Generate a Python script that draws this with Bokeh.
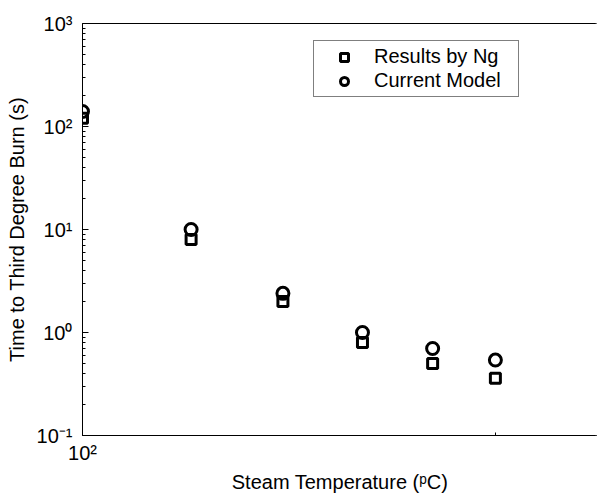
from bokeh.plotting import figure
from bokeh.models import FixedTicker, Legend, LegendItem, Range1d, CustomJSTickFormatter, Span
from bokeh.embed import file_html
from bokeh.resources import INLINE

# ---- data ----
temps = [100, 120, 140, 160, 180, 200]
ng_results = [120, 8.0, 2.0, 0.8, 0.5, 0.36]
current_model = [140, 10.0, 2.4, 1.0, 0.7, 0.54]

y_major = [0.1, 1, 10, 100, 1000]
y_tick_labels = ["10⁻¹", "10⁰", "10¹", "10²", "10³"]
x_major = [100]
x_tick_labels = ["10²"]
x_minor = [200]

FONT = "Liberation Sans"
FS = "20px"
X_END = 237.4

p = figure(width=597, height=497, x_axis_type="log", y_axis_type="log",
           x_range=Range1d(100, X_END), y_range=Range1d(0.1, 1000),
           output_backend="svg", toolbar_location=None,
           outline_line_color="black", outline_line_width=1,
           min_border_left=82, min_border_right=0, min_border_top=23, min_border_bottom=62)
p.grid.visible = False
p.background_fill_color = "white"
p.border_fill_color = "white"

y_minor = [m * 10.0 ** e for e in range(-1, 3) for m in range(2, 10)]

fmt_js = """
const i = tvals.findIndex(t => Math.abs(Math.log10(t) - Math.log10(tick)) < 1e-6);
return i >= 0 ? tlabels[i] : '';
"""

yax = p.yaxis[0]
yax.ticker = FixedTicker(ticks=y_major, minor_ticks=y_minor)
yax.formatter = CustomJSTickFormatter(args=dict(tvals=y_major, tlabels=y_tick_labels), code=fmt_js)
xax = p.xaxis[0]
xax.ticker = FixedTicker(ticks=x_major, minor_ticks=x_minor)
xax.formatter = CustomJSTickFormatter(args=dict(tvals=x_major, tlabels=x_tick_labels), code=fmt_js)

for ax in (xax, yax):
    ax.axis_line_color = "black"
    ax.axis_line_width = 1
    ax.major_tick_in = 6
    ax.major_tick_out = 0
    ax.minor_tick_in = 3
    ax.minor_tick_out = 0
    ax.major_tick_line_color = "black"
    ax.minor_tick_line_color = "black"
    ax.major_label_text_font = FONT
    ax.major_label_text_font_size = FS
    ax.major_label_text_color = "black"
    ax.axis_label_text_font = FONT
    ax.axis_label_text_font_size = FS
    ax.axis_label_text_font_style = "normal"
    ax.axis_label_text_color = "black"

yax.axis_label = "Time to Third Degree Burn (s)"
yax.major_label_standoff = 10
yax.axis_label_standoff = 6
xax.axis_label = "Steam Temperature (ᵖC)"
xax.major_label_standoff = 6
xax.axis_label_standoff = 4

sq = p.scatter(temps, ng_results, marker="square", size=10, fill_color=None,
               line_color="black", line_width=3)
ci = p.scatter(temps, current_model, marker="circle", size=12, fill_color=None,
               line_color="black", line_width=3)

# hide the right edge of the frame (the reference is cut off there)
p.add_layout(Span(location=X_END, dimension="height", line_color="white",
                  line_width=4, level="overlay"))

legend = Legend(items=[LegendItem(label="Results by Ng", renderers=[sq]),
                       LegendItem(label="Current Model", renderers=[ci])],
                location=(231, 338), orientation="vertical",
                border_line_color="black", border_line_width=1,
                background_fill_color="white", background_fill_alpha=1,
                padding=4, spacing=1, margin=0,
                glyph_width=52, glyph_height=20, label_height=20, label_width=140,
                label_standoff=4,
                label_text_font=FONT, label_text_font_size=FS, label_text_color="black")
p.add_layout(legend, "center")

open("out.html", "w").write(file_html(p, INLINE))
